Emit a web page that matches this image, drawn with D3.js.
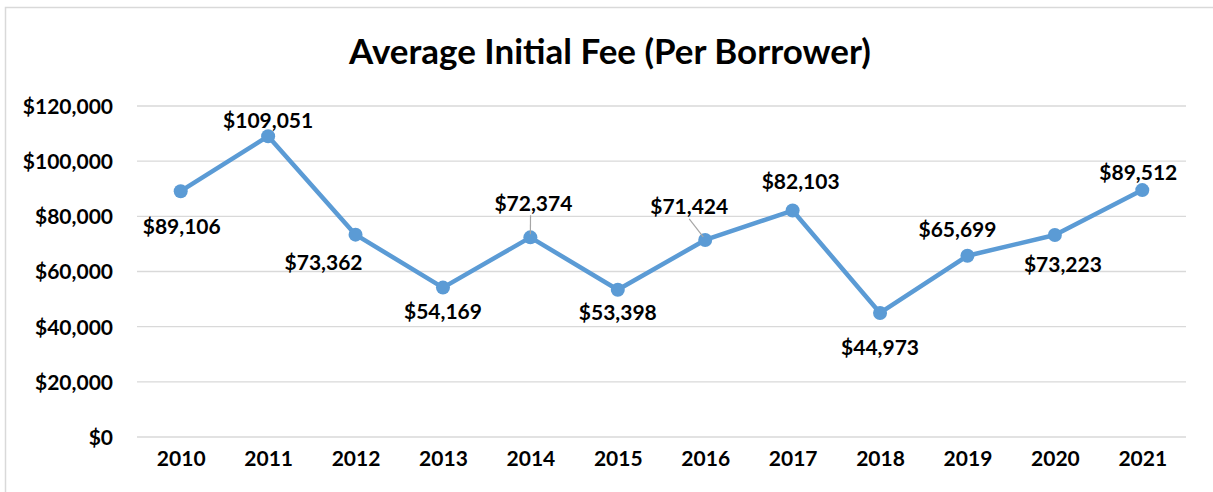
<!DOCTYPE html>
<html>
<head>
<meta charset="utf-8">
<script src="https://cdn.jsdelivr.net/npm/d3@7"></script>
<style>
  body { margin: 0; background: #fff; }
  svg text { font-family: Lato, "Open Sans", sans-serif; font-weight: bold; fill: #000; }
</style>
</head>
<body>
<svg id="chart" width="1213" height="492"></svg>
<script>
// chart data
var years = ["2010","2011","2012","2013","2014","2015","2016","2017","2018","2019","2020","2021"];
var fees = [89106, 109051, 73362, 54169, 72374, 53398, 71424, 82103, 44973, 65699, 73223, 89512];
var yTicks = [0, 20000, 40000, 60000, 80000, 100000, 120000];

// where each data label sits relative to its point (dx, dy) and whether it has a leader line
var labelOffsets = [[1,35],[0,-16],[-32,28],[0,24],[3,-34],[0,23],[-16,-33],[8,-29],[0,35],[-10,-26],[8,30],[-4,-17]];
var leaders = [false,false,false,false,true,false,true,false,false,false,false,false];

var svg = d3.select("#chart");
var margin = {top: 106, right: 27, bottom: 55, left: 137};
var width = 1213 - margin.left - margin.right,
    height = 492 - margin.top - margin.bottom;

// outer chart border (only top/left visible in the crop)
svg.append("rect")
    .attr("x", 5.5).attr("y", 7.5)
    .attr("width", 1240).attr("height", 520)
    .attr("fill", "none").attr("stroke", "#d9d9d9").attr("stroke-width", 1.5);

// title
var title = svg.append("text")
    .attr("x", 610).attr("y", 64)
    .attr("text-anchor", "middle")
    .style("font-size", "30px")
    .text("Average Initial Fee (Per Borrower)");
var tw = title.node().getComputedTextLength();
title.style("font-size", (30 * 522 / tw) + "px");

var x = d3.scalePoint().domain(years).range([0, width]).padding(0.5);
var y = d3.scaleLinear().domain([0, 120000]).range([height, 0]);

var g = svg.append("g")
    .attr("transform", "translate(" + margin.left + "," + margin.top + ")");

// gridlines
g.append("g")
    .selectAll("line")
    .data(yTicks)
    .enter().append("line")
      .attr("x1", 0).attr("x2", width)
      .attr("y1", function(d) { return y(d); })
      .attr("y2", function(d) { return y(d); })
      .attr("stroke", "#d9d9d9")
      .attr("stroke-width", 1.4);

// y axis labels
var fmt = d3.format("$,.0f");
var yAxis = g.append("g")
    .call(d3.axisLeft(y).tickValues(yTicks).tickFormat(fmt).tickSize(0).tickPadding(24));
yAxis.select(".domain").remove();
yAxis.selectAll("text").style("font-size", "21px").attr("dy", "0.35em");

// x axis labels
var xAxis = g.append("g")
    .attr("transform", "translate(0," + height + ")")
    .call(d3.axisBottom(x).tickSize(0).tickPadding(22));
xAxis.select(".domain").remove();
xAxis.selectAll("text").style("font-size", "21px").attr("dy", "0.35em");

// line
var line = d3.line()
    .x(function(d, i) { return x(years[i]); })
    .y(function(d) { return y(d); });

g.append("path")
    .datum(fees)
    .attr("fill", "none")
    .attr("stroke", "#5b9bd5")
    .attr("stroke-width", 4.5)
    .attr("stroke-linejoin", "round")
    .attr("d", line);

g.selectAll(".dot")
    .data(fees)
    .enter().append("circle")
      .attr("class", "dot")
      .attr("cx", function(d, i) { return x(years[i]); })
      .attr("cy", function(d) { return y(d); })
      .attr("r", 7)
      .attr("fill", "#5b9bd5");

// leader lines
g.selectAll(".leader")
    .data(fees.map(function(d, i) { return i; }).filter(function(i) { return leaders[i]; }))
    .enter().append("line")
      .attr("class", "leader")
      .attr("x1", function(i) { return x(years[i]) + (labelOffsets[i][0] < -5 ? labelOffsets[i][0] : labelOffsets[i][0] * 0.05); })
      .attr("y1", function(i) { return y(fees[i]) + labelOffsets[i][1] + 12; })
      .attr("x2", function(i) { return x(years[i]) - (labelOffsets[i][0] < -5 ? 2 : 0); })
      .attr("y2", function(i) { return y(fees[i]) - 3; })
      .attr("stroke", "#a6a6a6")
      .attr("stroke-width", 1.2);

// data labels
g.selectAll(".label")
    .data(fees)
    .enter().append("text")
      .attr("class", "label")
      .attr("x", function(d, i) { return x(years[i]) + labelOffsets[i][0]; })
      .attr("y", function(d, i) { return y(d) + labelOffsets[i][1]; })
      .attr("dy", "0.35em")
      .attr("text-anchor", "middle")
      .style("font-size", "21px")
      .text(function(d) { return fmt(d); });
</script>
</body>
</html>
